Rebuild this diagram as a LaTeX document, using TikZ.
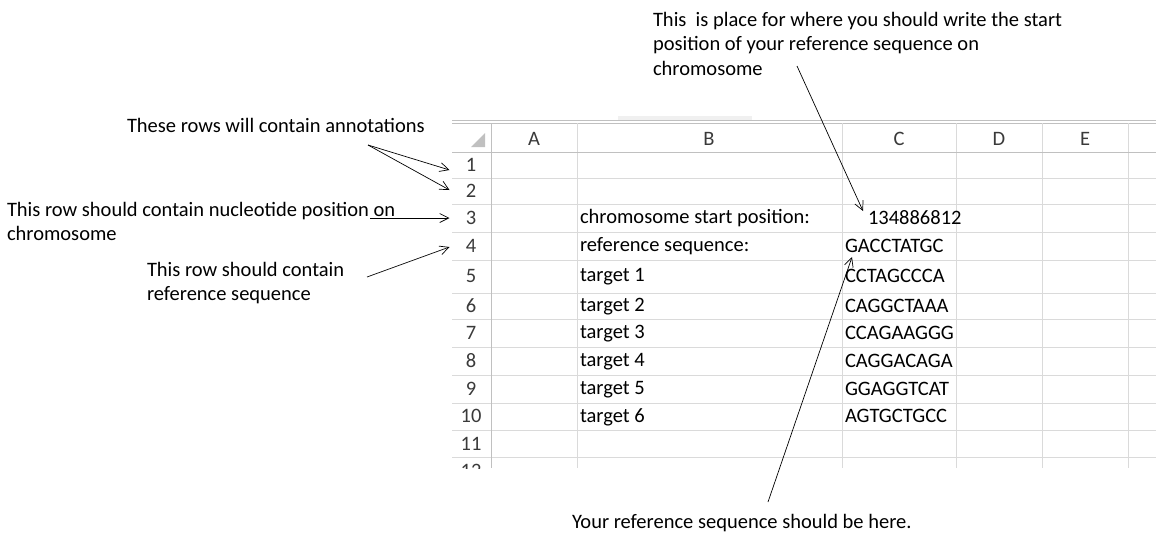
\documentclass[tikz,border=0pt]{standalone}
\usepackage{fontspec}
\setmainfont{Carlito}
\usetikzlibrary{arrows.meta,calc}
\definecolor{gridgray}{HTML}{DADADA}
\definecolor{headgray}{HTML}{C0C0C0}
\definecolor{labelgray}{HTML}{3A3A3A}

\begin{document}
\begin{tikzpicture}[x=1pt, y=-1pt,
    every node/.style={font=\fontsize{20.5}{24.5}\selectfont, inner sep=0pt, outer sep=0pt},
    cell/.style={anchor=west},
    head/.style={text=labelgray},
    rownum/.style={text=labelgray, minimum width=39, minimum height=20},
    note/.style={align=left, anchor=north west},
    arr/.style={-{Straight Barb[length=9pt,width=9pt]}, line width=0.7pt}]
    \useasboundingbox (0,0) rectangle (1156,539);
    % sheet top edge
    \fill[gridgray!40] (618,116) rectangle (752,120);
    \draw[headgray] (452,120) -- (1156,120);
    \draw[headgray] (452,123) -- (1156,123);
    % grid
    \foreach \x in {577,842,956,1042,1128}
        \draw[gridgray] (\x,123) -- (\x,468);
    \foreach \y in {178,204,232,260,293,319,347,375,403,430,457}
        \draw[gridgray] (452,\y) -- (1156,\y);
    \draw[headgray] (491,123) -- (491,468);
    \draw[headgray] (452,152) -- (1156,152);
    \fill[headgray] (485,133) -- (485,147) -- (471,147) -- cycle;
    % headers
    \foreach \c/\x in {A/534,B/709,C/899,D/999,E/1085}
        \node[head] (h\c) at (\x,139) {\c};
    \foreach \n/\y in {1/165,2/191,3/218,4/246,5/276,6/306,7/333,8/361,9/389,10/416,11/444}
        \node[rownum] (r\n) at (471,\y) {\n};
    \begin{scope}
        \clip (452,457) rectangle (491,468);
        \node[rownum] (r12) at (471,471) {12};
    \end{scope}
    % cells
    \node[cell] (b3) at (580,218) {chromosome start position:};
    \node[cell] (b4) at (580,246) {reference sequence:};
    \foreach \t/\y in {1/277,2/307,3/334,4/362,5/390,6/417}
        \node[cell] (t\t) at (580,\y) {target \t};
    \node[cell] (c3) at (868,218) {134886812};
    \node[cell] (c4) at (845,246) {GACCTATGC};
    \foreach \s/\q/\y in {1/CCTAGCCCA/276,2/CAGGCTAAA/306,3/CCAGAAGGG/333,4/CAGGACAGA/361,5/GGAGGTCAT/389,6/AGTGCTGCC/416}
        \node[cell] (s\s) at (845,\y) {\q};
    % notes
    \node[note] (startnote) at (653,12) {This\ \ is place for where you should write the start\\position of your reference sequence on\\chromosome};
    \node[cell] (annnote) at (127,125) {These rows will contain annotations};
    \node[note] (posnote) at (7,202) {This row should contain nucleotide position on\\chromosome};
    \node[note] (refnote) at (147,262) {This row should contain\\reference sequence};
    \node[anchor=base west] (herenote) at (572,528) {Your reference sequence should be here.};
    % arrows
    \coordinate (anntail) at (368,145);
    \coordinate (postail) at (370,218);
    \coordinate (reftail) at (367,277);
    \coordinate (starttail) at (797,66);
    \coordinate (heretail) at (768,502);
    \draw[arr] (anntail) -- ($(r1.west)+(-2,5)$);
    \draw[arr] (anntail) -- ($(r2.west)+(-2,-1)$);
    \draw[arr] (postail) -- ($(r3.west)+(-2,0)$);
    \draw[arr] (reftail) -- ($(r4.west)+(-2,1)$);
    \draw[arr] (starttail) -- ($(c3.west)+(-5,-7)$);
    \draw[arr] (heretail) -- ($(c4.west)+(7,11)$);
\end{tikzpicture}
\end{document}
